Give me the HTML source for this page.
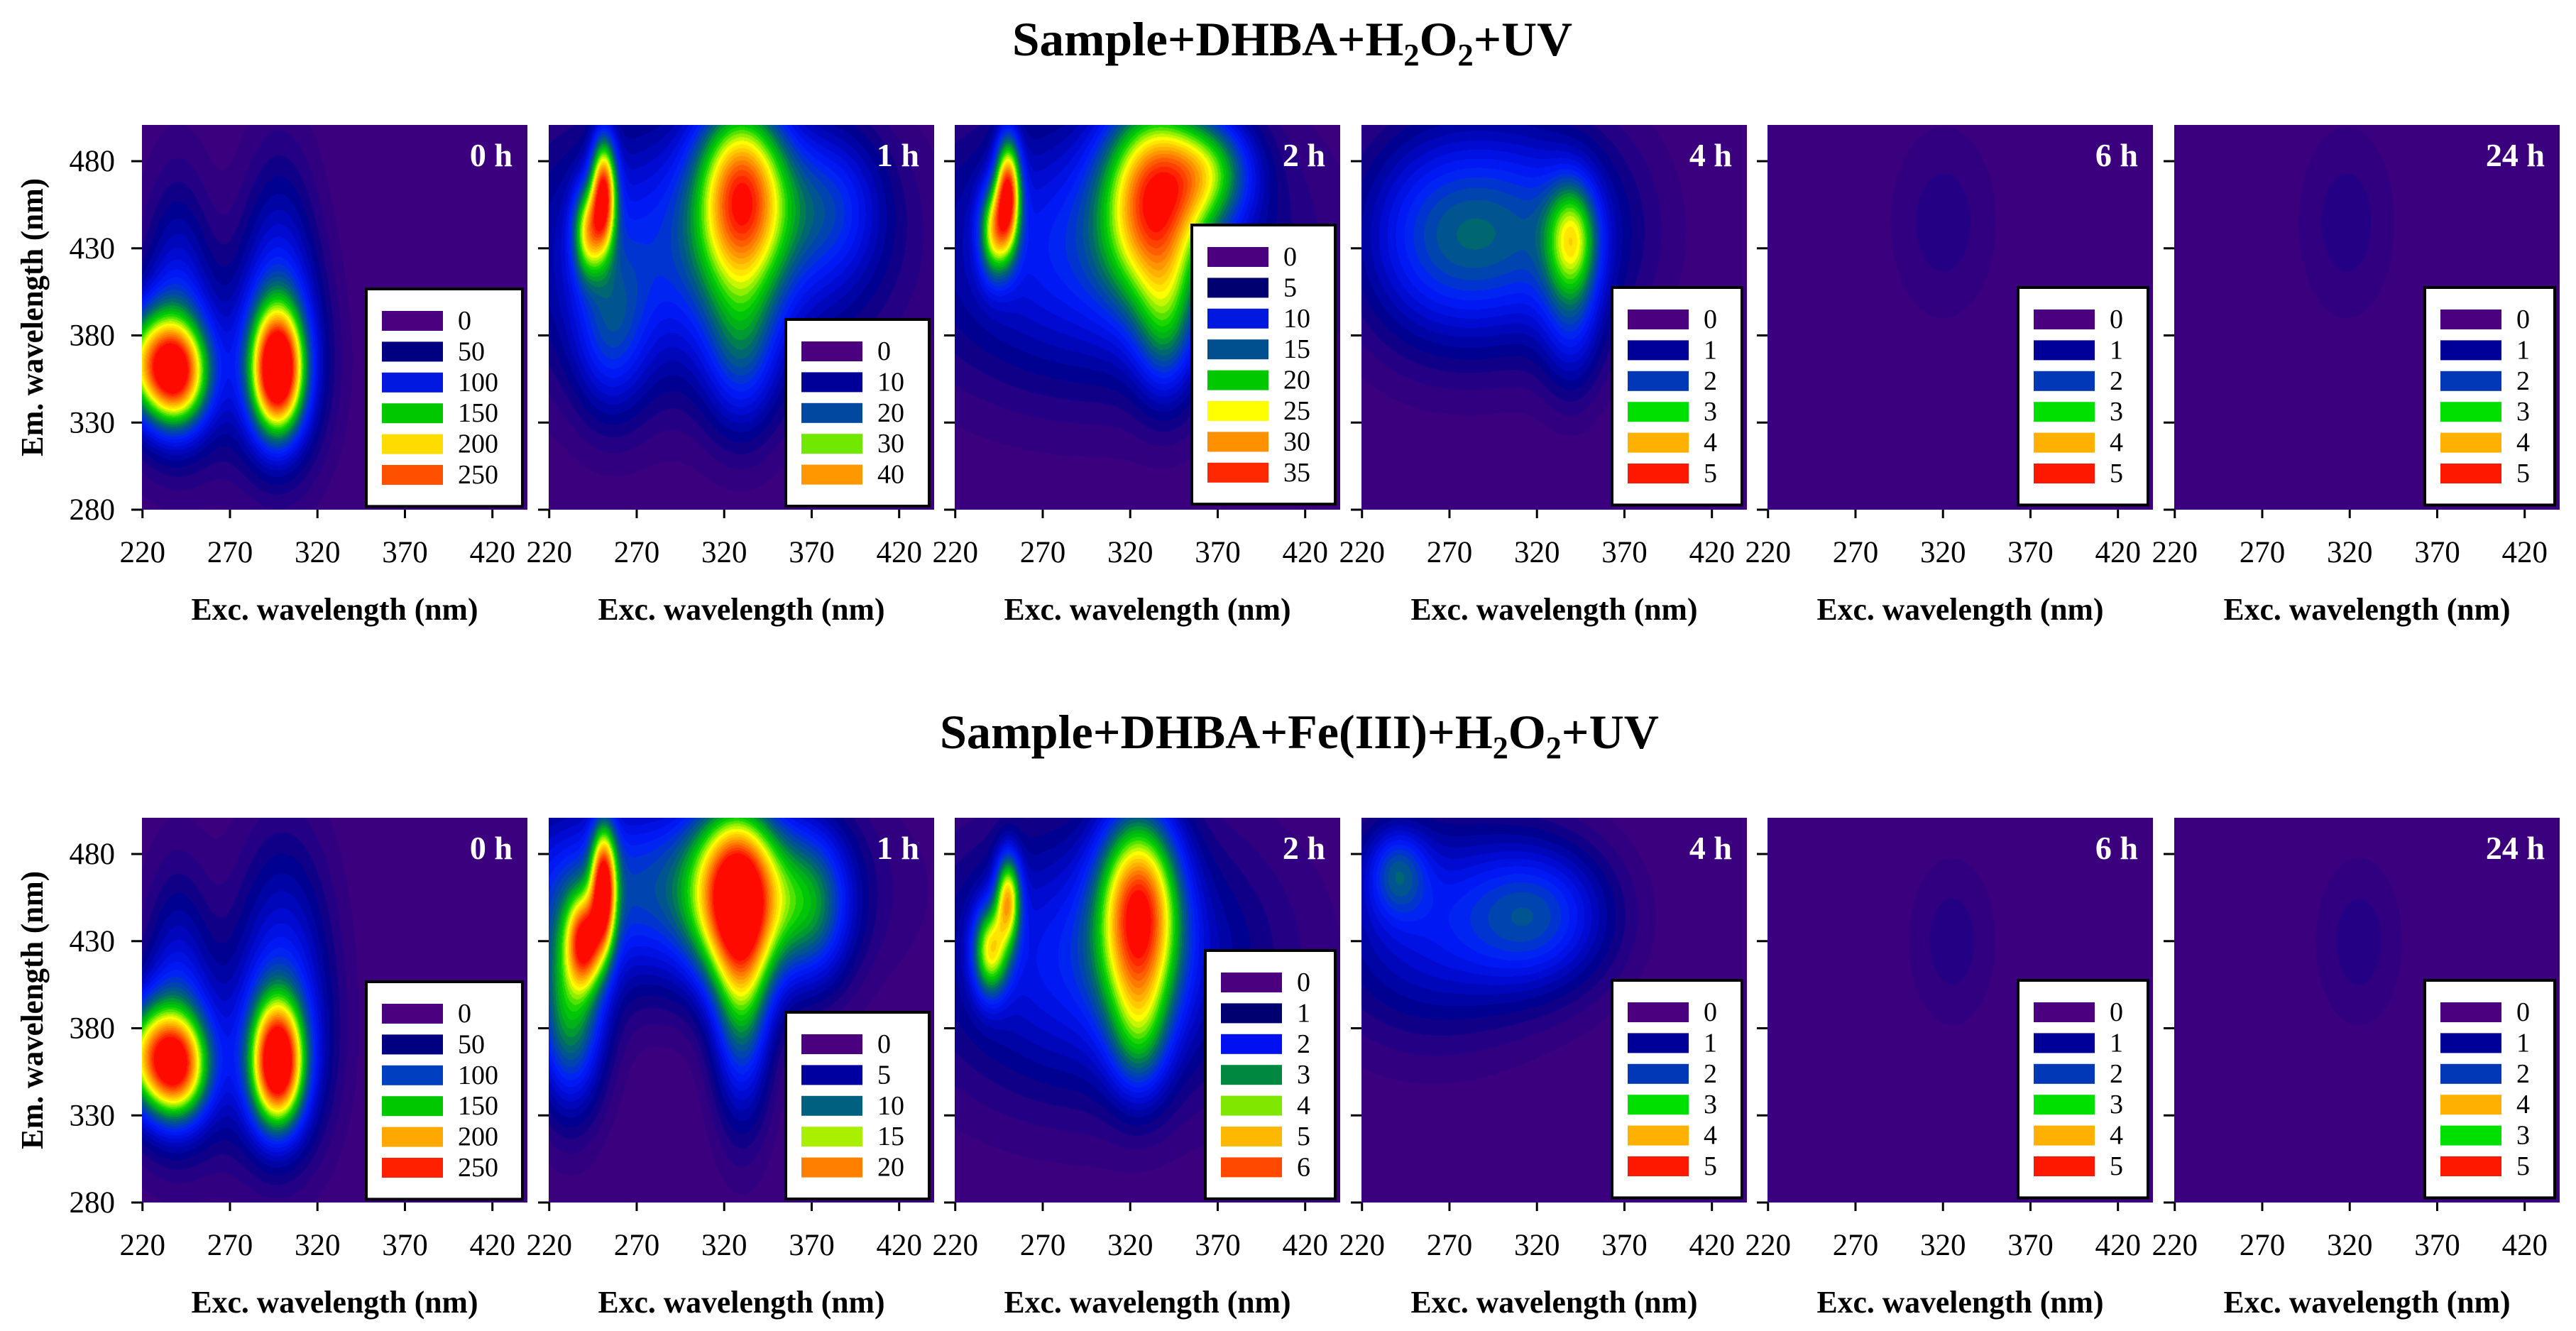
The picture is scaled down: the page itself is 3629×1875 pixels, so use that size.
<!DOCTYPE html>
<html><head><meta charset="utf-8">
<style>
html,body{margin:0;padding:0;background:#fff;}
#wrap{position:relative;width:3629px;height:1875px;overflow:hidden;background:#fff;}
canvas{position:absolute;}
svg{position:absolute;left:0;top:0;}
text{font-family:"Liberation Serif","Times New Roman",serif;}
</style></head>
<body>
<div id="wrap">
<svg id="ov" width="3629" height="1875"></svg>
</div>
<script>
// ---- data ----
const xTicks = [220, 270, 320, 370, 420];
const yTicks = [280, 330, 380, 430, 480];
const timeLabels = ["0 h", "1 h", "2 h", "4 h", "6 h", "24 h"];
const rowTitles = ["Sample+DHBA+H2O2+UV", "Sample+DHBA+Fe(III)+H2O2+UV"];
// peaks: [exc nm, em nm, sigma exc, sigma em, relative intensity]
const peaksTop0 = [[240,358,12,20,0.62],[297,360,10,24,0.9],[222,365,14,22,0.45],[240,405,14,50,0.2],[298,410,16,55,0.22],[240,360,22,38,0.22],[297,360,20,42,0.26]];
const peaksTop1 = [[251,462,5,22,0.8],[242,440,6,18,0.5],[330,462,18,38,0.75],[300,430,70,55,0.33],[330,370,15,35,0.25],[255,380,15,35,0.22],[380,455,22,32,0.22]];
const peaksTop2 = [[250,462,5,22,0.8],[242,440,6,18,0.5],[333,460,20,40,0.72],[365,475,18,22,0.4],[300,430,70,55,0.33],[340,385,12,32,0.27]];
const peaksTop4 = [[340,437,10,22,0.42],[320,440,40,45,0.3],[262,437,35,45,0.3],[340,390,12,32,0.2]];
const peaksTop6 = [[320,445,22,40,0.08]];
const peaksTop24 = [[318,445,20,40,0.08]];
const peaksBot0 = [[240,358,12,20,0.6],[297,360,10,24,0.88],[222,365,14,22,0.45],[240,405,14,50,0.2],[300,420,20,55,0.22],[240,360,22,38,0.22],[297,360,20,42,0.26]];
const peaksBot1 = [[251,461,5,24,0.8],[240,430,7,18,0.6],[327,458,18,35,0.75],[330,400,12,50,0.45],[232,390,14,40,0.5],[280,460,70,40,0.38],[370,450,16,32,0.35]];
const peaksBot2 = [[250,455,5,18,0.6],[240,425,7,18,0.55],[325,448,16,40,0.8],[300,420,65,55,0.32],[325,375,12,28,0.27]];
const peaksBot4 = [[322,445,30,30,0.3],[260,440,45,45,0.25],[240,470,12,18,0.25]];
const peaksBot6 = [[325,430,18,35,0.08]];
const peaksBot24 = [[325,430,18,35,0.08]];
const panelPeaks = [[peaksTop0,peaksTop1,peaksTop2,peaksTop4,peaksTop6,peaksTop24],[peaksBot0,peaksBot1,peaksBot2,peaksBot4,peaksBot6,peaksBot24]];
// legends
const legTop0Labels=["0","50","100","150","200","250"], legTop0Colors=["#4b0080","#000080","#0018e0","#00c800","#ffdc00","#ff5000"];
const legTop1Labels=["0","10","20","30","40"], legTop1Colors=["#4b0080","#000098","#0048a0","#70e800","#ff9800"];
const legTop2Labels=["0","5","10","15","20","25","30","35"], legTop2Colors=["#4b0080","#000070","#0018e0","#005090","#00c800","#ffff00","#ff9000","#ff2800"];
const legStdLabels=["0","1","2","3","4","5"], legStdColors=["#4b0080","#000098","#0038b8","#00e000","#ffb000","#ff1800"];
const legBot0Labels=["0","50","100","150","200","250"], legBot0Colors=["#4b0080","#000080","#0040c0","#00c800","#ffa800","#ff2000"];
const legBot1Labels=["0","5","10","15","20"], legBot1Colors=["#4b0080","#0000a0","#006080","#a8f000","#ff8000"];
const legBot2Labels=["0","1","2","3","4","5","6"], legBot2Colors=["#4b0080","#000070","#0010f0","#008840","#80e800","#ffb800","#ff4800"];
const legBot24Labels=["0","1","2","4","3","5"], legBot24Colors=["#4b0080","#000098","#0038b8","#ffb000","#00e000","#ff1800"];
const legendLabels=[[legTop0Labels,legTop1Labels,legTop2Labels,legStdLabels,legStdLabels,legStdLabels],[legBot0Labels,legBot1Labels,legBot2Labels,legStdLabels,legStdLabels,legBot24Labels]];
const legendColors=[[legTop0Colors,legTop1Colors,legTop2Colors,legStdColors,legStdColors,legStdColors],[legBot0Colors,legBot1Colors,legBot2Colors,legStdColors,legStdColors,legBot24Colors]];

// ---- layout ----
const PW=543, PH=542, PITCH=572.6, LEFT0=200;
const rowTop=[176,1152];
const legTopY=[[407,450,317,405,405,405],[1383,1426,1339,1381,1381,1381]];
const X0=219.7, X1=440, Y0=280, Y1=500.8;
function xs(nm,left){return left+(nm-X0)/(X1-X0)*PW;}
function ys(nm,top){return top+(Y1-nm)/(Y1-Y0)*PH;}

const stops=[[0,[59,0,125]],[0.05,[42,0,130]],[0.12,[0,0,140]],[0.22,[0,10,210]],[0.3,[0,30,255]],[0.38,[0,70,170]],[0.45,[0,110,100]],[0.52,[0,170,30]],[0.58,[0,210,0]],[0.66,[150,240,0]],[0.72,[255,255,0]],[0.82,[255,170,0]],[0.9,[255,100,0]],[1,[255,10,0]]];
function cmap(v){
  v=Math.max(0,Math.min(1,v));
  v=Math.floor(v*32)/32;
  for(let i=1;i<stops.length;i++){
    if(v<=stops[i][0]){const a=stops[i-1],b=stops[i];const t=(v-a[0])/(b[0]-a[0]);
      return [0,1,2].map(k=>Math.round(a[1][k]+(b[1][k]-a[1][k])*t));}
  }
  return stops[stops.length-1][1];
}
const NS="http://www.w3.org/2000/svg";
const ov=document.getElementById('ov');
const wrap=document.getElementById('wrap');
function el(tag,attrs,parent){const e=document.createElementNS(NS,tag);for(const k in attrs)e.setAttribute(k,attrs[k]);(parent||ov).appendChild(e);return e;}

for(let r=0;r<2;r++){
  const top=rowTop[r];
  for(let p=0;p<6;p++){
    const left=Math.round(LEFT0+p*PITCH);
    const c=document.createElement('canvas');
    c.width=PW;c.height=PH;c.style.left=left+'px';c.style.top=top+'px';
    
    
    wrap.insertBefore(c,ov);
    const ctx=c.getContext('2d');const img=ctx.createImageData(PW,PH);
    const pk=panelPeaks[r][p].map(q=>({cx:xs(q[0],0),cy:ys(q[1],0),sx:q[2]/(X1-X0)*PW,sy:q[3]/(Y1-Y0)*PH,a:q[4]}));
    for(let y=0;y<PH;y++)for(let x=0;x<PW;x++){
      let v=0;for(const q of pk){const dx=(x-q.cx)/q.sx,dy=(y-q.cy)/q.sy;const d=dx*dx+dy*dy;if(d<30)v+=q.a*Math.exp(-0.5*d);}
      const col=cmap(v);const i=(y*PW+x)*4;img.data[i]=col[0];img.data[i+1]=col[1];img.data[i+2]=col[2];img.data[i+3]=255;
    }
    ctx.putImageData(img,0,0);
    yTicks.forEach(t=>{const y=ys(t,top);
      const tk=el('line',{x1:left-15,x2:left,y1:y,y2:y,stroke:'#000','stroke-width':3});
      
      
      if(p===0){const tl=el('text',{x:162,y:y+14,'font-size':43,'text-anchor':'end'});tl.textContent=t;
        
        }
    });
    xTicks.forEach(t=>{const x=xs(t,left);
      const tk=el('line',{x1:x,x2:x,y1:top+PH,y2:top+PH+12,stroke:'#000','stroke-width':3});
      
      
      const tl=el('text',{x:x,y:top+PH+74,'font-size':43,'text-anchor':'middle'});tl.textContent=t;
      
      
    });
    const xt=el('text',{x:left+PW/2,y:top+PH+155,'font-size':44,'font-weight':'bold','text-anchor':'middle',textLength:404,lengthAdjust:'spacingAndGlyphs'});
    xt.textContent='Exc. wavelength (nm)';
    
    
    const lb=el('text',{x:left+PW-21,y:top+58,'font-size':46,'font-weight':'bold','text-anchor':'end',fill:'#fff'});
    lb.textContent=timeLabels[p];
    
    
    const labs=legendLabels[r][p],cols=legendColors[r][p];
    const maxLen=Math.max(...labs.map(s=>s.length));
    const bw=maxLen>=3?220:(maxLen===2?202:183);
    const bx=left+PW-7-bw, by=legTopY[r][p];
    const bh=31+labs.length*43.4+15;
    const g=el('g',{});
    
    
    el('rect',{x:bx,y:by,width:bw,height:bh,fill:'#fff',stroke:'#000','stroke-width':4},g);
    labs.forEach((s,i)=>{
      const sy=by+31+i*43.4;
      const sw=el('rect',{x:bx+22,y:sy,width:86,height:28,fill:cols[i]},g);
      
      
      const tx=el('text',{x:bx+129,y:sy+26,'font-size':38},g);tx.textContent=s;
      
      
    });
  }
  const yt=el('text',{x:0,y:0,'font-size':44,'font-weight':'bold','text-anchor':'middle',transform:`translate(60,${top+PH/2}) rotate(-90)`,textLength:392,lengthAdjust:'spacingAndGlyphs'});
  yt.textContent='Em. wavelength (nm)';
  
  
}
function title(y,x1,w,parts,name){
  const t=el('text',{x:x1,y:y,'font-size':68,'font-weight':'bold',textLength:w,lengthAdjust:'spacingAndGlyphs'});
  
  
  parts.forEach(pt=>{const s=el('tspan',pt.sub?{'font-size':44,dy:14}:{dy:pt.back?-14:0},t);s.textContent=pt.t;});
}
title(78,1426,789,[{t:'Sample+DHBA+H'},{t:'2',sub:1},{t:'O',back:1},{t:'2',sub:1},{t:'+UV',back:1}],'top-row-title');
title(1054,1324,1013,[{t:'Sample+DHBA+Fe(III)+H'},{t:'2',sub:1},{t:'O',back:1},{t:'2',sub:1},{t:'+UV',back:1}],'bottom-row-title');
</script>
</body></html>
